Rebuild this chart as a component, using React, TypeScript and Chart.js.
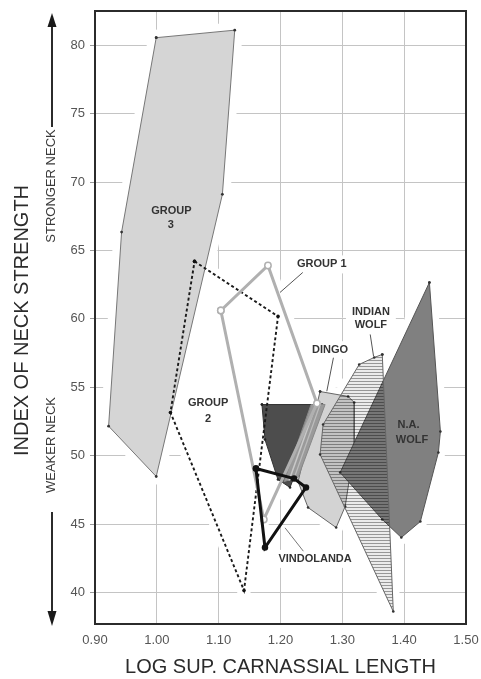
import React, { useEffect, useRef } from "react";
import { Chart, registerables } from "chart.js";

Chart.register(...registerables);

// ---- Axis ticks ----
const xTicks = [0.9, 1.0, 1.1, 1.2, 1.3, 1.4, 1.5];
const yTicks = [40, 45, 50, 55, 60, 65, 70, 75, 80];

// ---- Polygons (log sup. carnassial length, index of neck strength) ----
const group3X = [0.999, 1.126, 1.106, 0.999, 0.922, 0.943];
const group3Y = [80.55, 81.1, 69.1, 48.48, 52.16, 66.34];

const group2X = [1.061, 1.196, 1.141, 1.022];
const group2Y = [64.2, 60.18, 40.15, 53.16];

const group1X = [1.1035, 1.1797, 1.259, 1.173];
const group1Y = [60.61, 63.9, 53.82, 45.34];

const darkX = [1.17, 1.2673, 1.2154, 1.1959, 1.1749];
const darkY = [53.74, 53.74, 47.68, 48.26, 51.18];

const bandX = [1.2494, 1.2721, 1.2284, 1.2057];
const bandY = [53.74, 53.74, 48.41, 48.11];
const stripe1X = [1.2575, 1.2138];
const stripe1Y = [53.74, 48.19];
const stripe2X = [1.264, 1.2219];
const stripe2Y = [53.74, 48.33];

const dingoX = [1.264, 1.3094, 1.3192, 1.3192, 1.3046, 1.29, 1.2446, 1.2284];
const dingoY = [54.69, 54.33, 53.89, 50.6, 46.29, 44.75, 46.21, 48.11];

const indianX = [1.3646, 1.3516, 1.3273, 1.2689, 1.264, 1.3824];
const indianY = [57.4, 57.18, 56.67, 52.28, 50.09, 38.61];

const naWolfX = [1.4408, 1.4586, 1.4553, 1.4262, 1.3954, 1.3646, 1.2965];
const naWolfY = [62.66, 51.77, 50.23, 45.19, 44.02, 45.34, 48.77];

const vindoX = [1.1603, 1.2219, 1.2413, 1.1749];
const vindoY = [49.06, 48.33, 47.68, 43.29];

// ---- Leader lines ----
const leaderGroup1X = [1.236, 1.1992];
const leaderGroup1Y = [63.39, 61.93];
const leaderDingoX = [1.2856, 1.2749];
const leaderDingoY = [57.16, 54.71];
const leaderIndianX = [1.3451, 1.3505];
const leaderIndianY = [58.86, 57.27];
const leaderVindoX = [1.237, 1.2073];
const leaderVindoY = [43.02, 44.73];

// ---- Annotation labels ----
const labelTexts = ["GROUP", "3", "GROUP", "2", "GROUP 1", "DINGO", "INDIAN", "WOLF", "N.A.", "WOLF", "VINDOLANDA"];
const labelX = [1.0236, 1.0224, 1.0829, 1.0829, 1.2668, 1.2802, 1.3462, 1.3462, 1.4072, 1.4127, 1.2559];
const labelY = [67.87, 66.83, 53.82, 52.72, 63.98, 57.71, 60.49, 59.52, 52.28, 51.18, 42.46];

const X_TITLE = "LOG SUP. CARNASSIAL LENGTH";
const Y_TITLE = "INDEX OF NECK STRENGTH";
const UP_TEXT = "STRONGER NECK";
const DOWN_TEXT = "WEAKER NECK";

const FONT = '"Liberation Sans", Arial, Helvetica, sans-serif';
const LABEL_FONT = "bold 11px " + FONT;

function pts(xs: number[], ys: number[], close: boolean) {
  const out = xs.map((x, i) => ({ x, y: ys[i] }));
  if (close) out.push({ x: xs[0], y: ys[0] });
  return out;
}

function makeHatch(): CanvasPattern | string {
  const c = document.createElement("canvas");
  c.width = 4;
  c.height = 3;
  const g = c.getContext("2d");
  if (!g) return "rgba(0,0,0,0.15)";
  g.fillStyle = "rgba(0,0,0,0.08)";
  g.fillRect(0, 0, 4, 3);
  g.fillStyle = "rgba(0,0,0,0.36)";
  g.fillRect(0, 0, 4, 1);
  const p = g.createPattern(c, "repeat");
  return p || "rgba(0,0,0,0.15)";
}

const haloPlugin = {
  id: "halo",
  beforeDatasetsDraw(chart: any) {
    const { ctx, chartArea: a } = chart;
    ctx.save();
    ctx.beginPath();
    ctx.rect(a.left, a.top, a.right - a.left, a.bottom - a.top);
    ctx.clip();
    ctx.fillStyle = "#ffffff";
    ctx.strokeStyle = "#ffffff";
    ctx.lineJoin = "round";
    ctx.lineCap = "round";
    chart.data.datasets.forEach((ds: any, i: number) => {
      if (!ds.halo) return;
      const meta = chart.getDatasetMeta(i);
      ctx.beginPath();
      meta.data.forEach((p: any, j: number) => {
        if (j === 0) ctx.moveTo(p.x, p.y);
        else ctx.lineTo(p.x, p.y);
      });
      ctx.closePath();
      ctx.lineWidth = ds.halo;
      ctx.fill();
      ctx.stroke();
    });
    const xs = chart.scales.x;
    const ys = chart.scales.y;
    ctx.font = LABEL_FONT;
    labelTexts.forEach((t, i) => {
      const px = xs.getPixelForValue(labelX[i]);
      const py = ys.getPixelForValue(labelY[i]);
      const w = ctx.measureText(t).width;
      ctx.fillRect(px - w / 2 - 6, py - 9, w + 12, 18);
    });
    ctx.restore();
  },
};

const decorPlugin = {
  id: "decor",
  afterDatasetsDraw(chart: any) {
    const { ctx, chartArea: a } = chart;
    const xs = chart.scales.x;
    const ys = chart.scales.y;
    ctx.save();
    // annotation labels
    ctx.font = LABEL_FONT;
    ctx.fillStyle = "#333333";
    ctx.textAlign = "center";
    ctx.textBaseline = "middle";
    labelTexts.forEach((t, i) => {
      ctx.fillText(t, xs.getPixelForValue(labelX[i]), ys.getPixelForValue(labelY[i]));
    });
    // frame
    ctx.strokeStyle = "#2b2b2b";
    ctx.lineWidth = 2;
    ctx.strokeRect(a.left, a.top, a.right - a.left, a.bottom - a.top);
    // x title
    ctx.fillStyle = "#2b2b2b";
    ctx.font = "20px " + FONT;
    ctx.fillText(X_TITLE, (a.left + a.right) / 2, 667);
    // y title
    ctx.save();
    ctx.translate(22, (a.top + a.bottom) / 2 + 3);
    ctx.rotate(-Math.PI / 2);
    ctx.fillText(Y_TITLE, 0, 0);
    ctx.restore();
    // stronger / weaker
    ctx.font = "13px " + FONT;
    ctx.fillStyle = "#3a3a3a";
    ctx.save();
    ctx.translate(51, 186);
    ctx.rotate(-Math.PI / 2);
    ctx.fillText(UP_TEXT, 0, 0);
    ctx.restore();
    ctx.save();
    ctx.translate(51, 445);
    ctx.rotate(-Math.PI / 2);
    ctx.fillText(DOWN_TEXT, 0, 0);
    ctx.restore();
    // arrows
    const ax = 52;
    ctx.strokeStyle = "#2b2b2b";
    ctx.fillStyle = "#1a1a1a";
    ctx.lineWidth = 2;
    ctx.beginPath();
    ctx.moveTo(ax, 127);
    ctx.lineTo(ax, 24);
    ctx.moveTo(ax, 512);
    ctx.lineTo(ax, 612);
    ctx.stroke();
    ctx.beginPath();
    ctx.moveTo(ax, 13);
    ctx.lineTo(ax - 4.5, 27);
    ctx.lineTo(ax + 4.5, 27);
    ctx.closePath();
    ctx.fill();
    ctx.beginPath();
    ctx.moveTo(ax, 626);
    ctx.lineTo(ax - 4.5, 611);
    ctx.lineTo(ax + 4.5, 611);
    ctx.closePath();
    ctx.fill();
    ctx.restore();
  },
};

export default function App() {
  const ref = useRef<HTMLCanvasElement | null>(null);

  useEffect(() => {
    if (!ref.current) return;
    const hatch = makeHatch();

    const layers: any[] = [
      {
        data: pts(group3X, group3Y, true),
        fill: "shape",
        backgroundColor: "#d5d5d5",
        borderColor: "#777777",
        borderWidth: 1,
        pointRadius: 1.4,
        pointBackgroundColor: "#333",
        pointBorderWidth: 0,
        halo: 16,
      },
      {
        data: pts(group1X, group1Y, true),
        fill: false,
        borderColor: "transparent",
        borderWidth: 0,
        pointRadius: 0,
        halo: 14,
      },
      {
        data: pts(group2X, group2Y, true),
        fill: false,
        borderColor: "transparent",
        borderWidth: 0,
        pointRadius: 0,
        halo: 14,
      },
      {
        data: pts(dingoX, dingoY, true),
        fill: "shape",
        backgroundColor: "#d3d3d3",
        borderColor: "#666666",
        borderWidth: 1,
        pointRadius: 1.3,
        pointBackgroundColor: "#333",
        pointBorderWidth: 0,
        halo: 14,
      },
      {
        data: pts(darkX, darkY, true),
        fill: "shape",
        backgroundColor: "#4d4d4d",
        borderColor: "#333333",
        borderWidth: 1,
        pointRadius: 1.3,
        pointBackgroundColor: "#222",
        pointBorderWidth: 0,
        halo: 14,
      },
      {
        data: pts(bandX, bandY, true),
        fill: "shape",
        backgroundColor: "#9a9a9a",
        borderColor: "#888888",
        borderWidth: 1,
        pointRadius: 0,
      },
      {
        data: pts(stripe1X, stripe1Y, false),
        fill: false,
        borderColor: "#c9c9c9",
        borderWidth: 1.5,
        pointRadius: 0,
      },
      {
        data: pts(stripe2X, stripe2Y, false),
        fill: false,
        borderColor: "#bdbdbd",
        borderWidth: 1.2,
        pointRadius: 0,
      },
      {
        data: pts(naWolfX, naWolfY, true),
        fill: "shape",
        backgroundColor: "#808080",
        borderColor: "#555555",
        borderWidth: 1,
        pointRadius: 1.3,
        pointBackgroundColor: "#333",
        pointBorderWidth: 0,
        halo: 14,
      },
      {
        data: pts(indianX, indianY, true),
        fill: "shape",
        backgroundColor: hatch,
        borderColor: "#666666",
        borderWidth: 1,
        pointRadius: 1.3,
        pointBackgroundColor: "#333",
        pointBorderWidth: 0,
        halo: 14,
      },
      {
        data: pts(group2X, group2Y, true),
        fill: false,
        borderColor: "#1a1a1a",
        borderWidth: 1.9,
        borderDash: [3, 2.5],
        pointRadius: 1.8,
        pointBackgroundColor: "#111",
        pointBorderWidth: 0,
      },
      {
        data: pts(group1X, group1Y, true),
        fill: false,
        borderColor: "#b0b0b0",
        borderWidth: 3,
        pointRadius: 3.2,
        pointBackgroundColor: "#ffffff",
        pointBorderColor: "#b0b0b0",
        pointBorderWidth: 1.5,
      },
      {
        data: pts(leaderGroup1X, leaderGroup1Y, false),
        fill: false,
        borderColor: "#555555",
        borderWidth: 1,
        pointRadius: 0,
      },
      {
        data: pts(leaderDingoX, leaderDingoY, false),
        fill: false,
        borderColor: "#555555",
        borderWidth: 1,
        pointRadius: 0,
      },
      {
        data: pts(leaderIndianX, leaderIndianY, false),
        fill: false,
        borderColor: "#555555",
        borderWidth: 1,
        pointRadius: 0,
      },
      {
        data: pts(leaderVindoX, leaderVindoY, false),
        fill: false,
        borderColor: "#777777",
        borderWidth: 1,
        pointRadius: 0,
      },
      {
        data: pts(vindoX, vindoY, true),
        fill: false,
        borderColor: "#111111",
        borderWidth: 3,
        pointRadius: 3.2,
        pointBackgroundColor: "#111",
        pointBorderWidth: 0,
      },
    ];

    const n = layers.length;
    const datasets = layers.map((d, i) => ({
      showLine: true,
      tension: 0,
      order: n - i,
      ...d,
    }));

    const chart = new Chart(ref.current, {
      type: "scatter",
      data: { datasets },
      options: {
        responsive: false,
        animation: false,
        devicePixelRatio: 1,
        events: [],
        layout: { padding: { top: 11, right: 15, left: 0, bottom: 0 } },
        plugins: {
          legend: { display: false },
          tooltip: { enabled: false },
        },
        scales: {
          x: {
            type: "linear",
            min: 0.9,
            max: 1.5,
            afterFit: (s: any) => {
              s.height = 55;
              s.paddingLeft = 0;
              s.paddingRight = 0;
            },
            afterBuildTicks: (s: any) => {
              s.ticks = xTicks.map((v) => ({ value: v }));
            },
            grid: { color: "#c4c4c4", lineWidth: 1, drawTicks: false },
            border: { display: false },
            ticks: {
              padding: 9,
              color: "#555555",
              font: { family: FONT, size: 13 },
              callback: (v: any) => Number(v).toFixed(2),
            },
          },
          y: {
            type: "linear",
            min: 37.7,
            max: 82.5,
            afterFit: (s: any) => {
              s.width = 95;
              s.paddingTop = 0;
              s.paddingBottom = 0;
            },
            afterBuildTicks: (s: any) => {
              s.ticks = yTicks.map((v) => ({ value: v }));
            },
            grid: { color: "#c4c4c4", lineWidth: 1, drawTicks: true, tickLength: 5, tickColor: "#999999" },
            border: { display: false },
            ticks: {
              padding: 5,
              color: "#555555",
              font: { family: FONT, size: 13 },
              callback: (v: any) => String(v),
            },
          },
        },
      } as any,
      plugins: [haloPlugin, decorPlugin],
    });

    return () => chart.destroy();
  }, []);

  return (
    <div style={{ position: "absolute", left: 0, top: 0, width: 481, height: 679, background: "#fff" }}>
      <canvas ref={ref} width={481} height={679} style={{ display: "block" }} />
    </div>
  );
}
